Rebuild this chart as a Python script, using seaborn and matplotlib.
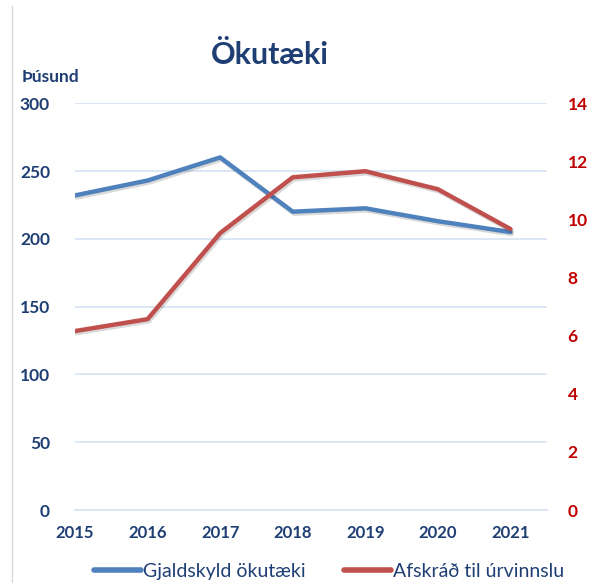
import numpy as np
import pandas as pd
import seaborn as sns
import matplotlib.pyplot as plt
from matplotlib.lines import Line2D
import matplotlib.patheffects as pe

years = [2015, 2016, 2017, 2018, 2019, 2020, 2021]
gjaldskyld = [232, 243, 260, 220, 222.5, 213, 205]
afskrad = [6.16, 6.57, 9.53, 11.45, 11.66, 11.04, 9.67]
left_ticks = [0, 50, 100, 150, 200, 250, 300]
right_ticks = [0, 2, 4, 6, 8, 10, 12, 14]

BLUE = '#4F81BD'
RED = '#C0504D'
NAVY = '#1F3F74'
DARKRED = '#C00000'
GRID = '#D6E3F3'

sns.set_style('white')
plt.rcParams['font.family'] = ['Lato', 'DejaVu Sans']

df = pd.DataFrame({'ar': years, 'gjaldskyld': gjaldskyld, 'afskrad': afskrad})

fig = plt.figure(figsize=(5.93, 5.83), dpi=100)
ax = fig.add_axes([0.1265, 0.125, 0.7955, 0.698])
ax2 = ax.twinx()

shadow = [pe.SimpleLineShadow(offset=(1, -1.5), alpha=0.15), pe.Normal()]
sns.lineplot(data=df, x='ar', y='gjaldskyld', ax=ax, color=BLUE, linewidth=3.2,
             path_effects=shadow, zorder=3)
sns.lineplot(data=df, x='ar', y='afskrad', ax=ax2, color=RED, linewidth=3.2,
             path_effects=shadow, zorder=3)

ax.set_xlim(2015, 2021.5)
ax.set_ylim(0, 300)
ax2.set_ylim(0, 14)
ax.set_xticks(years)
ax.set_yticks(left_ticks)
ax2.set_yticks(right_ticks)
ax.set_xlabel('')
ax.set_ylabel('')
ax2.set_ylabel('')

ax.grid(axis='y', color=GRID, linewidth=1.2)
ax.set_axisbelow(True)
for s in ['top', 'left', 'right']:
    ax.spines[s].set_visible(False)
    ax2.spines[s].set_visible(False)
ax2.spines['bottom'].set_visible(False)
ax.spines['bottom'].set_color(GRID)
ax.spines['bottom'].set_linewidth(1.2)

ax.tick_params(axis='x', colors=GRID, length=5, width=1.2, pad=6, labelcolor=NAVY, labelsize=12)
ax.tick_params(axis='y', length=0, pad=18, labelcolor=NAVY, labelsize=12.5)
ax2.tick_params(axis='y', length=0, pad=15, labelcolor=DARKRED, labelsize=12.5)
for lbl in ax.get_xticklabels() + ax.get_yticklabels() + ax2.get_yticklabels():
    lbl.set_fontweight('bold')

fig.text(0.455, 0.905, 'Ökutæki', ha='center', va='center', fontsize=22,
         fontweight='bold', color=NAVY)
fig.text(0.037, 0.868, 'Þúsund', ha='left', va='center', fontsize=12.5,
         fontweight='bold', color=NAVY)

handles = [Line2D([], [], color=BLUE, linewidth=4),
           Line2D([], [], color=RED, linewidth=4)]
leg = fig.legend(handles, ['Gjaldskyld ökutæki', 'Afskráð til úrvinnslu'],
                 loc='center', bbox_to_anchor=(0.555, 0.02), ncol=2, frameon=False,
                 fontsize=14, handlelength=2.4, handletextpad=0.1, columnspacing=2.0)
for t in leg.get_texts():
    t.set_color(NAVY)

fig.add_artist(Line2D([0.02, 0.02], [0.0, 0.99], color='#D9D9D9', linewidth=1))

fig.savefig('out.png', dpi=100)
